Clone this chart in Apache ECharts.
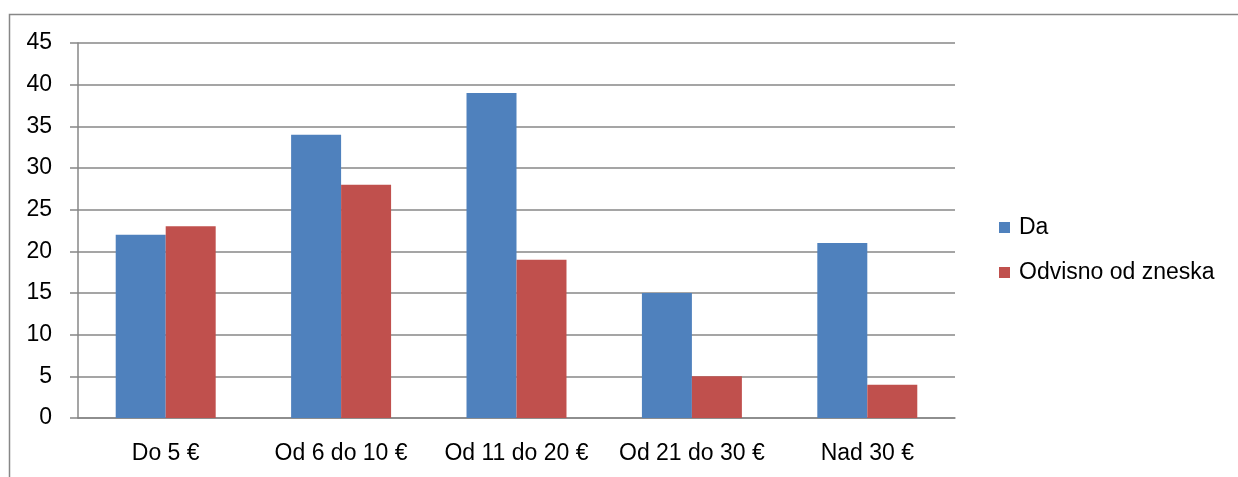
<!DOCTYPE html>
<html>
<head>
<meta charset="utf-8">
<script src="https://cdn.jsdelivr.net/npm/echarts@6/dist/echarts.min.js"></script>
<style>
  html, body { margin: 0; padding: 0; background: #fff; }
  #chart { width: 1238px; height: 477px; }
</style>
</head>
<body>
<div id="chart"></div>
<script>
// kategorije in vrednosti
const categories = ['Do 5 €', 'Od 6 do 10 €', 'Od 11 do 20 €', 'Od 21 do 30 €', 'Nad 30 €'];
const seriesNames = ['Da', 'Odvisno od zneska'];
const daValues = [22, 34, 39, 15, 21];
const odvisnoValues = [23, 28, 19, 5, 4];

const font = 'Liberation Sans, Noto Sans, sans-serif';
const gray = '#878787';
const fs = 23;

const myChart = echarts.init(document.getElementById('chart'));
const option = {
  animation: false,
  textStyle: { fontFamily: font },
  graphic: [
    {
      type: 'rect',
      shape: { x: 9.5, y: 14.5, width: 1400, height: 600 },
      style: { fill: 'none', stroke: gray, lineWidth: 1.5 },
      silent: true
    }
  ],
  grid: { left: 78, right: 283, top: 43, bottom: 59 },
  legend: {
    orient: 'vertical',
    left: 999,
    top: 216,
    padding: 0,
    itemWidth: 11,
    itemHeight: 11,
    itemGap: 22,
    icon: 'rect',
    textStyle: { fontSize: fs, color: '#000', fontFamily: font, padding: [0, 0, 0, 4] },
    data: seriesNames
  },
  xAxis: {
    type: 'category',
    data: categories,
    axisLine: { lineStyle: { color: gray, width: 1.5 } },
    axisTick: { show: false },
    axisLabel: { color: '#000', fontSize: fs, margin: 24, interval: 0, hideOverlap: false }
  },
  yAxis: {
    type: 'value',
    min: 0,
    max: 45,
    interval: 5,
    axisLine: { show: true, lineStyle: { color: gray, width: 1.5 } },
    axisTick: { show: true, length: 8, lineStyle: { color: gray, width: 1.5 } },
    axisLabel: { color: '#000', fontSize: fs, margin: 26 },
    splitLine: { lineStyle: { color: gray, width: 1.5 } }
  },
  series: [
    {
      name: seriesNames[0],
      type: 'bar',
      data: daValues,
      itemStyle: { color: '#4f81bd' },
      barGap: '0%',
      barCategoryGap: '43%'
    },
    {
      name: seriesNames[1],
      type: 'bar',
      data: odvisnoValues,
      itemStyle: { color: '#c0504d' }
    }
  ]
};
myChart.setOption(option);
</script>
</body>
</html>
